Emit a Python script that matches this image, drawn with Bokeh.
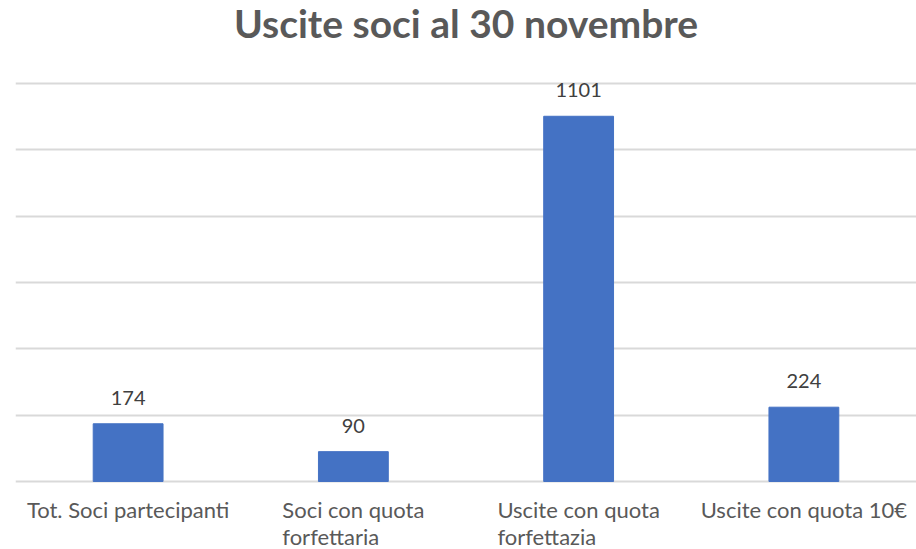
from bokeh.plotting import figure
from bokeh.models import ColumnDataSource, LabelSet, Label, Range1d, FixedTicker
from bokeh.core.properties import value
from bokeh.embed import file_html
from bokeh.resources import INLINE

title_text = "Uscite soci al 30 novembre"
categories = ["Tot. Soci partecipanti", "Soci con quota forfettaria",
              "Uscite con quota forfettazia", "Uscite con quota 10€"]
tick_labels = ["Tot. Soci partecipanti", "Soci con quota\nforfettaria",
               "Uscite con quota\nforfettazia", "Uscite con quota 10€"]
values = [174, 90, 1101, 224]
grid_ticks = [0, 200, 400, 600, 800, 1000, 1200]

FONT = "Lato"
src = ColumnDataSource(dict(cat=categories, val=values, lbl=[str(v) for v in values],
                            tick=tick_labels, zero=[0] * len(values)))

p = figure(x_range=categories, y_range=Range1d(-205, 1450), width=916, height=549,
           output_backend="svg", toolbar_location=None,
           min_border_left=15, min_border_right=0, min_border_top=0, min_border_bottom=0,
           x_axis_location=None, y_axis_location=None)

p.ygrid.ticker = FixedTicker(ticks=grid_ticks)
p.ygrid.grid_line_color = "#d9d9d9"
p.ygrid.grid_line_width = 2
p.xgrid.grid_line_color = None
p.outline_line_color = None
p.x_range.range_padding = 0

p.vbar(x="cat", top="val", width=0.31, source=src, color="#4472C4")
p.add_layout(LabelSet(x="cat", y="val", text="lbl", source=src, text_align="center",
                      text_baseline="bottom", y_offset=19, text_font_size="20px",
                      text_color="#404040", text_font=value(FONT)))
p.add_layout(LabelSet(x="cat", y="zero", text="tick", source=src, text_align="center",
                      text_baseline="top", y_offset=-15, text_font_size="22px",
                      text_line_height=1.0, text_color="#595959", text_font=value(FONT)))

# chart title, centred over the plot area
p.add_layout(Label(x=2.0, y=1200, y_offset=60, text=title_text, text_align="center",
                   text_baseline="alphabetic", text_font=FONT, text_font_size="39px",
                   text_font_style="bold", text_color="#595959"))

open("out.html", "w").write(file_html(p, INLINE))
